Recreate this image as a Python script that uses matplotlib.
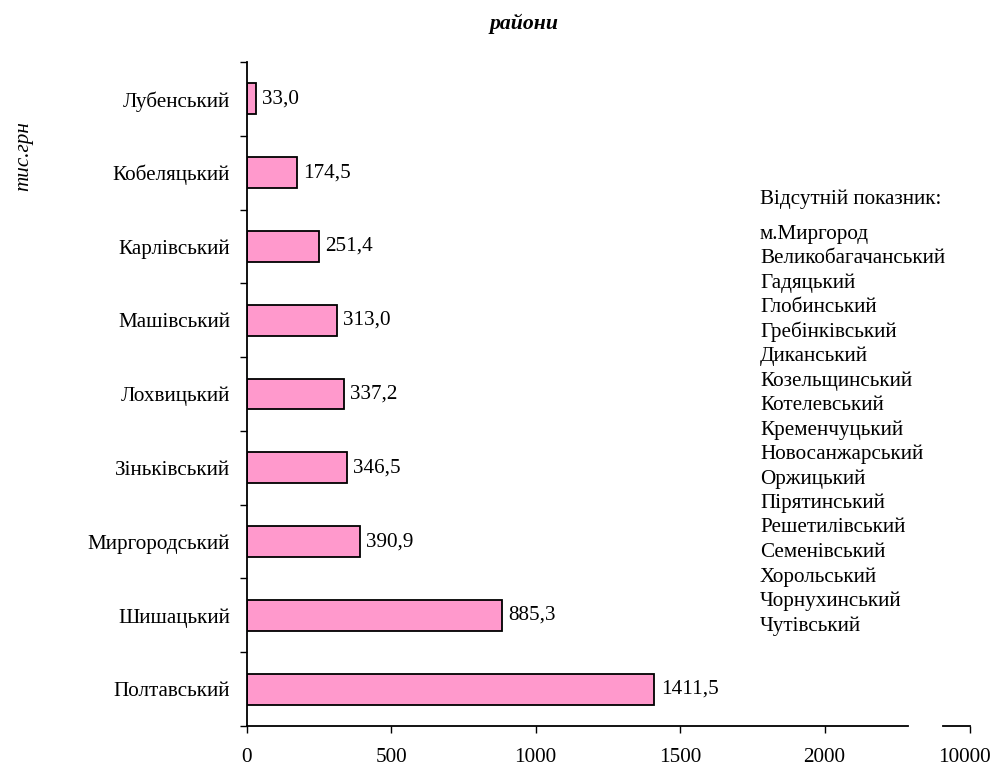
import matplotlib
matplotlib.use("Agg")
import matplotlib.pyplot as plt
import matplotlib.transforms as mtrans
from matplotlib.ticker import FixedLocator

plt.rcParams['font.family'] = ['Liberation Serif', 'DejaVu Serif']

# -- data (bottom to top)
districts = ['Полтавський', 'Шишацький', 'Миргородський', 'Зіньківський',
             'Лохвицький', 'Машівський', 'Карлівський', 'Кобеляцький',
             'Лубенський']
values = [1411.5, 885.3, 390.9, 346.5, 337.2, 313.0, 251.4, 174.5, 33.0]
missing = ['м.Миргород', 'Великобагачанський', 'Гадяцький', 'Глобинський',
           'Гребінківський', 'Диканський', 'Козельщинський', 'Котелевський',
           'Кременчуцький', 'Новосанжарський', 'Оржицький', 'Пірятинський',
           'Решетилівський', 'Семенівський', 'Хорольський', 'Чорнухинський',
           'Чутівський']
xticks_main = [0, 500, 1000, 1500, 2000]
xtick_far = 10000

W, H = 992, 766
FS = 15.2
fig = plt.figure(figsize=(W / 100, H / 100), dpi=100)

# main axes
x0, x1, ytop, ybot = 246.7, 908.3, 62, 726
ax = fig.add_axes([x0 / W, (H - ybot) / H, (x1 - x0) / W, (ybot - ytop) / H])
pos = range(len(districts))
ax.barh(pos, values, height=0.42, color='#FF99CC', edgecolor='black',
        linewidth=1.3)
for i, v in enumerate(values):
    ax.annotate('{:.1f}'.format(v).replace('.', ','), (v, i),
                xytext=(4.5, 0), textcoords='offset points',
                va='center', ha='left', fontsize=FS)

xmax = 2290
ax.set_xlim(0, xmax)
ax.set_ylim(-0.5, len(districts) - 0.5)
ax.set_xticks(xticks_main)
ax.set_xticklabels([str(t) for t in xticks_main])
ax.set_yticks(list(pos))
ax.set_yticklabels(districts)
ax.yaxis.set_minor_locator(FixedLocator([i - 0.5 for i in range(len(districts) + 1)]))
ax.tick_params(axis='y', which='major', length=0, pad=12, labelsize=FS)
ax.tick_params(axis='y', which='minor', length=4.7, width=1, direction='out')
ax.tick_params(axis='x', length=5, width=1, direction='out', pad=10.5,
               labelsize=FS)
for s in ['top', 'right']:
    ax.spines[s].set_visible(False)
for s in ['left', 'bottom']:
    ax.spines[s].set_linewidth(1.3)

# broken-axis stub with the 10000 tick
px = (x1 - x0) / xmax
sx0, sx1 = 943.3, 970
ax2 = fig.add_axes([sx0 / W, (H - ybot) / H, (sx1 - sx0) / W, 0.01])
ax2.set_xlim(xtick_far - (sx1 - sx0) / px, xtick_far)
ax2.set_xticks([xtick_far])
ax2.set_xticklabels([str(xtick_far)])
ax2.set_yticks([])
ax2.patch.set_visible(False)
for s in ['top', 'right', 'left']:
    ax2.spines[s].set_visible(False)
ax2.spines['bottom'].set_linewidth(1.3)
ax2.tick_params(axis='x', length=5, width=1, direction='out', pad=10.5,
                labelsize=FS)
shift = mtrans.ScaledTranslation(-6 / 100, 0, fig.dpi_scale_trans)
for lab in ax2.get_xticklabels():
    lab.set_transform(lab.get_transform() + shift)

# titles
fig.text(524.5 / W, 1 - 24 / H, 'райони', ha='center', va='center',
         fontsize=FS + 0.5, fontweight='bold', fontstyle='italic')
fig.text(24 / W, 1 - 156 / H, 'тис.грн', ha='center', va='center',
         rotation=90, fontsize=FS, fontstyle='italic')

# list of districts without data
fig.text(760 / W, 1 - 199 / H, 'Відсутній показник:', ha='left',
         va='center', fontsize=FS)
for k, name in enumerate(missing):
    fig.text(760 / W, 1 - (234 + 24.5 * k) / H, name, ha='left',
             va='center', fontsize=FS)

fig.savefig('out.png', dpi=100)
